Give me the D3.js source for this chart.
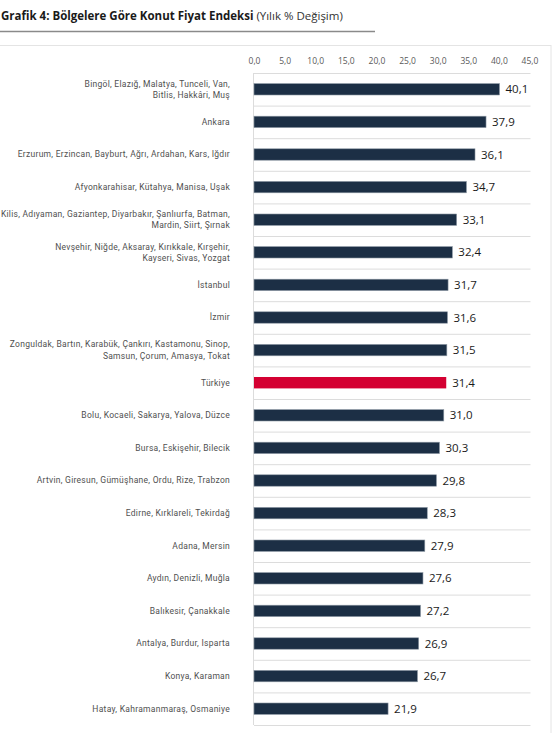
<!DOCTYPE html>
<html>
<head>
<meta charset="utf-8">
<script src="https://cdn.jsdelivr.net/npm/d3@7"></script>
<style>
  body { margin: 0; background: #fff; }
  svg { display: block; }
</style>
</head>
<body>
<div id="chart"></div>
<script>
// regions, top to bottom; "\n" marks where the label wraps
const regions = [
  "Bingöl, Elazığ, Malatya, Tunceli, Van,\nBitlis, Hakkâri, Muş",
  "Ankara",
  "Erzurum, Erzincan, Bayburt, Ağrı, Ardahan, Kars, Iğdır",
  "Afyonkarahisar, Kütahya, Manisa, Uşak",
  "Kilis, Adıyaman, Gaziantep, Diyarbakır, Şanlıurfa, Batman,\nMardin, Siirt, Şırnak",
  "Nevşehir, Niğde, Aksaray, Kırıkkale, Kırşehir,\nKayseri, Sivas, Yozgat",
  "İstanbul",
  "İzmir",
  "Zonguldak, Bartın, Karabük, Çankırı, Kastamonu, Sinop,\nSamsun, Çorum, Amasya, Tokat",
  "Türkiye",
  "Bolu, Kocaeli, Sakarya, Yalova, Düzce",
  "Bursa, Eskişehir, Bilecik",
  "Artvin, Giresun, Gümüşhane, Ordu, Rize, Trabzon",
  "Edirne, Kırklareli, Tekirdağ",
  "Adana, Mersin",
  "Aydın, Denizli, Muğla",
  "Balıkesir, Çanakkale",
  "Antalya, Burdur, Isparta",
  "Konya, Karaman",
  "Hatay, Kahramanmaraş, Osmaniye"
];
const changes = [40.1, 37.9, 36.1, 34.7, 33.1, 32.4, 31.7, 31.6, 31.5, 31.4,
  31.0, 30.3, 29.8, 28.3, 27.9, 27.6, 27.2, 26.9, 26.7, 21.9];
const highlight = "Türkiye";
const xTicks = [0, 5, 10, 15, 20, 25, 30, 35, 40, 45];

const width = 553,
  height = 733,
  plot = { left: 254, right: 529.5, top: 73, bottom: 725 };

const fmt = v => d3.format(".1f")(v).replace(".", ",");
const rows = regions.map((r, i) => ({ region: r, value: changes[i] }));

const svg = d3.select("#chart").append("svg")
  .attr("width", width)
  .attr("height", height);

// title
const title = svg.append("text")
  .attr("x", 1)
  .attr("y", 20)
  .attr("font-family", "'Open Sans', sans-serif")
  .attr("font-size", 11.5)
  .attr("fill", "#1a1a1a");
title.append("tspan").attr("font-weight", "bold").text("Grafik 4: Bölgelere Göre Konut Fiyat Endeksi");
title.append("tspan").attr("fill", "#333").text(" (Yılık % Değişim)");

svg.append("line")
  .attr("x1", 0).attr("x2", 375)
  .attr("y1", 31.5).attr("y2", 31.5)
  .attr("stroke", "#8a8a8a")
  .attr("stroke-width", 1.5);

// chart frame
svg.append("rect")
  .attr("x", -1).attr("y", 45.5)
  .attr("width", 552).attr("height", 720)
  .attr("fill", "none")
  .attr("stroke", "#e4e4e4");

const x = d3.scaleLinear()
  .domain([0, 45])
  .range([plot.left, plot.right]);

const y = d3.scaleBand()
  .domain(rows.map(d => d.region))
  .range([plot.top, plot.bottom])
  .paddingInner(0.65)
  .paddingOuter(0.325);

const step = y.step();

// category separators
svg.append("g")
  .selectAll("line")
  .data(d3.range(rows.length + 1))
  .join("line")
  .attr("x1", plot.left).attr("x2", plot.right + 1)
  .attr("y1", i => plot.top + i * step + 0.5)
  .attr("y2", i => plot.top + i * step + 0.5)
  .attr("stroke", "#dcdcdc");

svg.append("line")
  .attr("x1", plot.left - 0.5).attr("x2", plot.left - 0.5)
  .attr("y1", plot.top).attr("y2", plot.bottom)
  .attr("stroke", "#dcdcdc");

// top axis
const xAxis = svg.append("g")
  .attr("transform", `translate(0,${plot.top - 9})`)
  .call(d3.axisTop(x).tickValues(xTicks).tickFormat(fmt).tickSize(0).tickPadding(0));
xAxis.select(".domain").remove();
xAxis.selectAll("text")
  .attr("font-family", "'Open Sans', sans-serif")
  .attr("font-size", 8.5)
  .attr("fill", "#595959");

// bars
svg.append("g")
  .selectAll("rect")
  .data(rows)
  .join("rect")
  .attr("x", x(0))
  .attr("y", d => y(d.region))
  .attr("width", d => x(d.value) - x(0))
  .attr("height", y.bandwidth())
  .attr("fill", d => d.region === highlight ? "#d40032" : "#1c2f45")
  .attr("stroke", d => d.region === highlight ? "none" : "#8e99a5")
  .attr("stroke-width", 0.6);

// value labels
svg.append("g")
  .selectAll("text")
  .data(rows)
  .join("text")
  .attr("x", d => x(d.value) + 6)
  .attr("y", d => y(d.region) + y.bandwidth() / 2)
  .attr("dy", "0.35em")
  .attr("font-family", "'Open Sans', sans-serif")
  .attr("font-size", 11.5)
  .attr("fill", "#1a1a1a")
  .text(d => fmt(d.value));

// category labels
const labels = svg.append("g")
  .selectAll("text")
  .data(rows)
  .join("text")
  .attr("text-anchor", "end")
  .attr("font-family", "Roboto, sans-serif")
  .attr("font-size", 8.5)
  .attr("letter-spacing", 0.28)
  .attr("fill", "#505050")
  .attr("y", d => y(d.region) + y.bandwidth() / 2);

labels.each(function(d) {
  const lines = d.region.split("\n");
  const off = -(lines.length - 1) * 5.6;
  d3.select(this).selectAll("tspan")
    .data(lines)
    .join("tspan")
    .attr("x", 230)
    .attr("dy", (l, i) => i === 0 ? (off / 8.5 + 0.35) + "em" : "11.2px")
    .text(l => l);
});
</script>
</body>
</html>
